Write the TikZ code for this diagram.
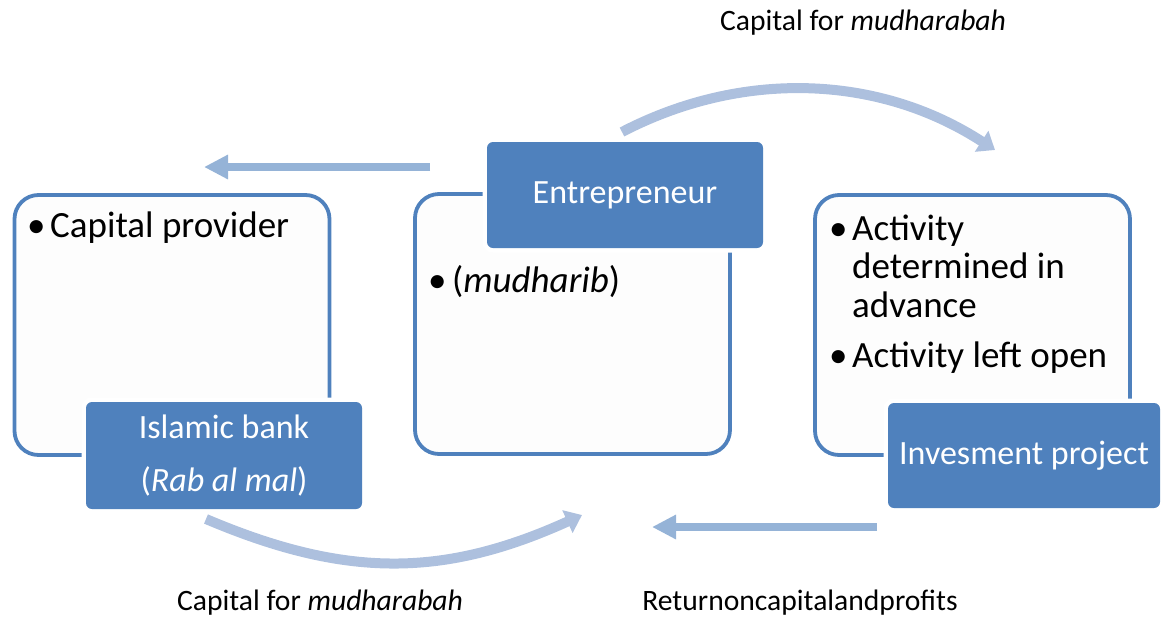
\documentclass[tikz,border=0pt]{standalone}
\usepackage{fontspec}
\setmainfont{Carlito}
\usetikzlibrary{arrows.meta}

\definecolor{boxblue}{HTML}{4F81BD}
\definecolor{flowblue}{HTML}{95B3D7}
\definecolor{curveblue}{HTML}{ADC0DE}
\definecolor{panelfill}{HTML}{FDFDFD}

\tikzset{
  panel/.style={draw=boxblue, line width=3.8pt, fill=panelfill, rounded corners=24pt,
    minimum width=315pt, minimum height=260pt, inner sep=0pt},
  rolebox/.style={fill=boxblue, rounded corners=6pt, text=white, align=center,
    preaction={draw=white, line width=9pt, rounded corners=6pt},
    font=\fontsize{34}{53}\selectfont, inner sep=0pt},
  bodytext/.style={anchor=base west, align=left, inner sep=0pt,
    font=\fontsize{37}{38.5}\selectfont},
  dot/.style={anchor=base west, inner sep=0pt, font=\fontsize{37}{38.5}\selectfont},
  flowlabel/.style={anchor=base, inner sep=0pt, font=\fontsize{29.6}{34}\selectfont},
  straightflow/.style={draw=flowblue, line width=8pt,
    -{Triangle[width=23pt,length=24pt]}},
  curvedflow/.style={draw=curveblue, line width=10pt,
    -{Triangle[width=24pt,length=16pt]}},
}

\begin{document}
\begin{tikzpicture}[x=1pt, y=-1pt]
\useasboundingbox (0,0) rectangle (1161,619);

% three panels
\node[panel] (provider) at (172,325) {};
\node[panel] (agent) at (572.5,324) {};
\node[panel] (project) at (972.5,325) {};

% role headers
\node[rolebox, minimum width=276pt, minimum height=107pt] (bank) at (224,455.5)
  {Islamic bank\\(\textit{Rab al mal})};
\node[rolebox, minimum width=276pt, minimum height=106pt] (entre) at (625,195)
  {Entrepreneur};
\node[rolebox, minimum width=272pt, minimum height=105pt] (invest) at (1024,455.5)
  {Invesment project};

% panel bullets (the base of a multi-line node is its last line)
\node[dot] (b1) at (27,237) {•};
\node[bodytext] (t1) at (50,237) {Capital provider};

\node[dot] (b2) at (428,292) {•};
\node[bodytext] (t2) at (452,292) {(\textit{mudharib})};

\node[dot] (b3) at (829,240) {•};
\node[bodytext] (t3) at (852,317) {Activity\\determined in\\advance};
\node[dot] (b4) at (829,367) {•};
\node[bodytext] (t4) at (852,367) {Activity left open};

% flow ends
\coordinate (topL) at (430,167);
\coordinate (topLtip) at (204,167);
\coordinate (botR) at (877,527);
\coordinate (botRtip) at (652,527);
\coordinate (arcTs) at (622,132);
\coordinate (arcTe) at (995,150);
\coordinate (arcBs) at (206,519);
\coordinate (arcBe) at (582,515);

% flows
\draw[straightflow] (topL) -- (topLtip);
\draw[straightflow] (botR) -- (botRtip);
\draw[curvedflow] (arcTs) .. controls (740,70.6) and (877,73.3) .. (arcTe);
\draw[curvedflow] (arcBs) .. controls (345,578) and (443,578) .. (arcBe);

% flow labels
\node[flowlabel] (lblTop) at (863,30) {Capital for \textit{mudharabah}};
\node[flowlabel] (lblBotL) at (320,610) {Capital for \textit{mudharabah}};
\node[flowlabel] (lblBotR) at (800,610) {Returnoncapitalandprofits};
\end{tikzpicture}
\end{document}
